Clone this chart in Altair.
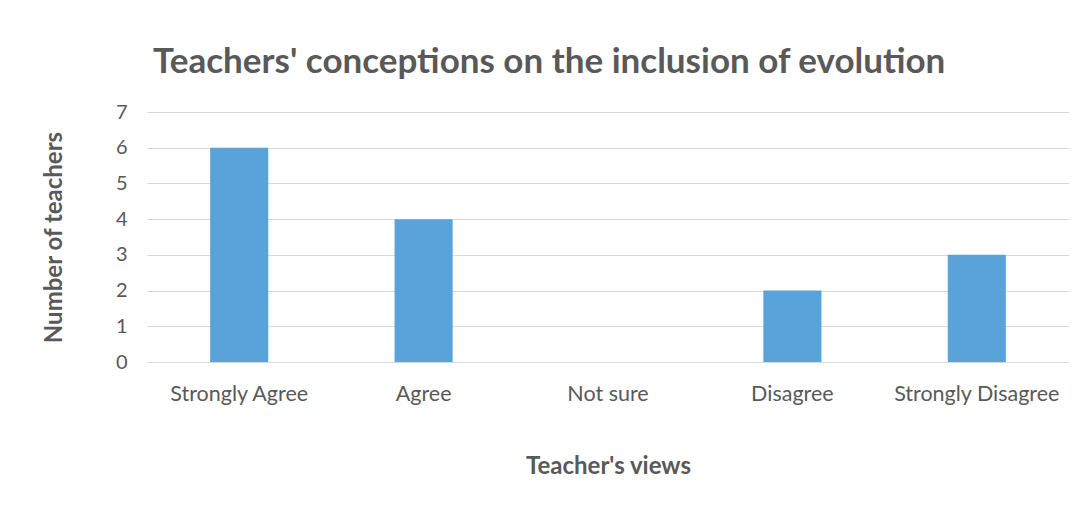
import altair as alt
import pandas as pd

categories = ["Strongly Agree", "Agree", "Not sure", "Disagree", "Strongly Disagree"]
teachers = [6, 4, 0, 2, 3]

df = pd.DataFrame({"view": categories, "count": teachers})

FONT = "Lato"
GRAY = "#595959"

chart = alt.Chart(df).mark_bar(color="#5AA2DA").encode(
    x=alt.X("view:N", sort=categories,
            scale=alt.Scale(paddingInner=0.685, paddingOuter=0.3425),
            axis=alt.Axis(title="Teacher's views", labelAngle=0, labelFontSize=21.5,
                          labelColor=GRAY, labelFont=FONT, labelPadding=21,
                          titleFontSize=24, titleFont=FONT, titleColor=GRAY,
                          titleFontWeight="bold", titlePadding=50,
                          domain=False, ticks=False, grid=False)),
    y=alt.Y("count:Q", scale=alt.Scale(domain=[0, 7]),
            axis=alt.Axis(title="Number of teachers", values=list(range(8)),
                          labelFontSize=20, labelColor=GRAY, labelFont=FONT,
                          labelPadding=20, titleFontSize=24, titleFont=FONT,
                          titleColor=GRAY, titleFontWeight="bold", titlePadding=49,
                          domain=False, ticks=False, gridColor="#d9d9d9",
                          gridWidth=1.2)),
).properties(
    width=922, height=250,
    title=alt.TitleParams("Teachers' conceptions on the inclusion of evolution",
                          anchor="start", frame="group", dx=6, fontSize=35,
                          font=FONT, fontWeight="bold", color=GRAY, offset=22),
    padding={"left": 147, "top": 112, "right": 16, "bottom": 144},
    autosize=alt.AutoSizeParams(type="none"),
).configure(
    background="white",
    view=alt.ViewConfig(stroke="transparent", strokeWidth=0),
)

chart.save("out.html", embed_options={"renderer": "svg", "actions": False})
